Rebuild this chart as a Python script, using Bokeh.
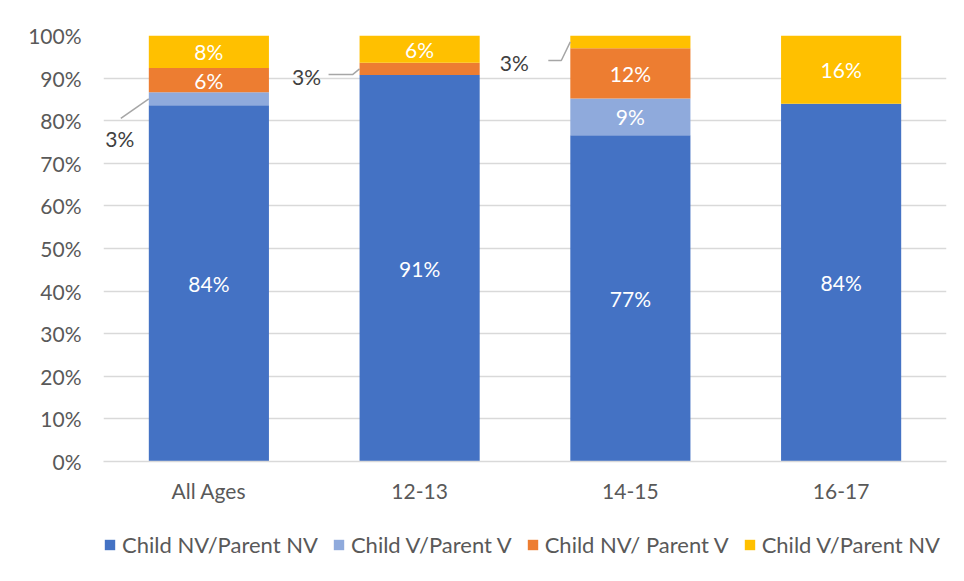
from bokeh.plotting import figure
from bokeh.layouts import column
from bokeh.models import (ColumnDataSource, Legend, LegendItem, FixedTicker,
                          Range1d, PrintfTickFormatter)
from bokeh.embed import file_html
from bokeh.resources import INLINE
from bokeh.core.properties import value

# ---------------- data ----------------
categories = ["All Ages", "12-13", "14-15", "16-17"]
series = ["Child NV/Parent NV", "Child V/Parent V", "Child NV/ Parent V", "Child V/Parent NV"]
colors = ["#4472C4", "#8FAADC", "#ED7D31", "#FFC000"]
nv_nv = [83.6, 90.7, 76.6, 84.0]
v_v = [3.1, 0.0, 8.6, 0.0]
nv_v = [5.7, 2.9, 11.8, 0.0]
v_nv = [7.6, 6.4, 3.0, 16.0]
y_ticks = [0, 10, 20, 30, 40, 50, 60, 70, 80, 90, 100]

# small segments labelled outside the bar with a leader line
# (category index, series index, leader-line pixel offsets, label pixel offset)
callouts = [
    (0, 1, [(0, 0), (-28, -19.5)], (-29, -39.5)),
    (1, 2, [(0, 0), (-7, -5.6), (-31, -5.6)], (-53, -7.6)),
    (2, 3, [(0, 0), (-9, -18.6), (-22, -18.6)], (-56, -20.6)),
]

FONT = "Lato"
FW, FH = 843, 426
BAR_W = 0.57
PX_X = FW / len(categories)
PX_Y = FH / 100.0

xs = [i + 0.5 for i in range(len(categories))]
series_vals = [nv_nv, v_v, nv_v, v_nv]
keys = ["s0", "s1", "s2", "s3"]
src = ColumnDataSource(dict(x=xs, **{k: v for k, v in zip(keys, series_vals)}))

p = figure(width=964, height=520, output_backend="svg", toolbar_location=None,
           x_range=Range1d(0, len(categories)), y_range=Range1d(0, 100),
           min_border_left=103, min_border_right=18, min_border_top=35, min_border_bottom=59)
p.outline_line_color = None
p.background_fill_color = "white"
p.border_fill_color = "white"

renderers = p.vbar_stack(keys, x="x", width=BAR_W, source=src, color=colors, line_color=None)

# axes
p.yaxis.ticker = FixedTicker(ticks=y_ticks)
p.yaxis.formatter = PrintfTickFormatter(format="%d%%")
p.yaxis.axis_line_color = None
p.yaxis.major_tick_line_color = None
p.yaxis.minor_tick_line_color = None
p.yaxis.major_label_standoff = 16
p.yaxis.major_label_text_font = FONT
p.yaxis.major_label_text_font_size = "21px"
p.yaxis.major_label_text_color = "#595959"

p.xaxis.ticker = FixedTicker(ticks=xs)
p.xaxis.major_label_overrides = {x: c for x, c in zip(xs, categories)}
p.xaxis.axis_line_color = "#D9D9D9"
p.xaxis.axis_line_width = 1.5
p.xaxis.major_tick_line_color = None
p.xaxis.minor_tick_line_color = None
p.xaxis.major_label_standoff = 10
p.xaxis.major_label_text_font = FONT
p.xaxis.major_label_text_font_size = "21px"
p.xaxis.major_label_text_color = "#595959"

p.xgrid.grid_line_color = None
p.ygrid.ticker = FixedTicker(ticks=y_ticks)
p.ygrid.grid_line_color = "#D9D9D9"
p.ygrid.grid_line_width = 1.5

# inside labels
lx, ly, lt = [], [], []
outside = {(c, s) for c, s, _, _ in callouts}
for ci in range(len(categories)):
    base = 0.0
    for si, vals in enumerate(series_vals):
        v = vals[ci]
        if v > 0 and (ci, si) not in outside:
            lx.append(xs[ci]); ly.append(base + v / 2); lt.append(f"{round(v)}%")
        base += v
p.text(x=lx, y=ly, text=lt, text_align="center", text_baseline="middle",
       text_color="white", text_font=value(FONT), text_font_size="21px")

# outside labels with leader lines
for ci, si, pts, lab in callouts:
    base = sum(series_vals[k][ci] for k in range(si))
    v = series_vals[si][ci]
    ax = xs[ci] - BAR_W / 2
    ay = base + v / 2
    p.line(x=[ax + dx / PX_X for dx, dy in pts], y=[ay + dy / PX_Y for dx, dy in pts],
           line_color="#A6A6A6", line_width=1.5)
    p.text(x=[ax + lab[0] / PX_X], y=[ay + lab[1] / PX_Y], text=[f"{round(v)}%"],
           text_align="center", text_baseline="middle", text_color="#404040",
           text_font=value(FONT), text_font_size="21px")

# ---------------- legend strip below the chart ----------------
lp = figure(width=964, height=61, output_backend="svg", toolbar_location=None,
            x_range=Range1d(0, 1), y_range=Range1d(0, 1),
            x_axis_location=None, y_axis_location=None,
            min_border_left=0, min_border_right=0, min_border_top=0, min_border_bottom=0)
lp.outline_line_color = None
lp.grid.visible = False
lp.border_fill_color = "white"
# key swatches: one zero-height bar each, outside the visible range
key_renderers = [lp.vbar(x=[-5], top=[0], bottom=[0], width=0.1, color=c, line_color=None)
                 for c in colors]

legend = Legend(items=[LegendItem(label=s, renderers=[r]) for s, r in zip(series, key_renderers)],
                orientation="horizontal", location=(0, 23))
legend.label_text_font = FONT
legend.label_text_font_size = "22px"
legend.label_text_color = "#595959"
legend.glyph_width = 13
legend.glyph_height = 13
legend.label_standoff = 6
legend.spacing = 14
legend.padding = 0
legend.margin = 0
legend.border_line_color = None
legend.background_fill_alpha = 0
lp.add_layout(legend, "center")

layout = column(p, lp, spacing=0)
open("out.html", "w").write(file_html(layout, INLINE))
